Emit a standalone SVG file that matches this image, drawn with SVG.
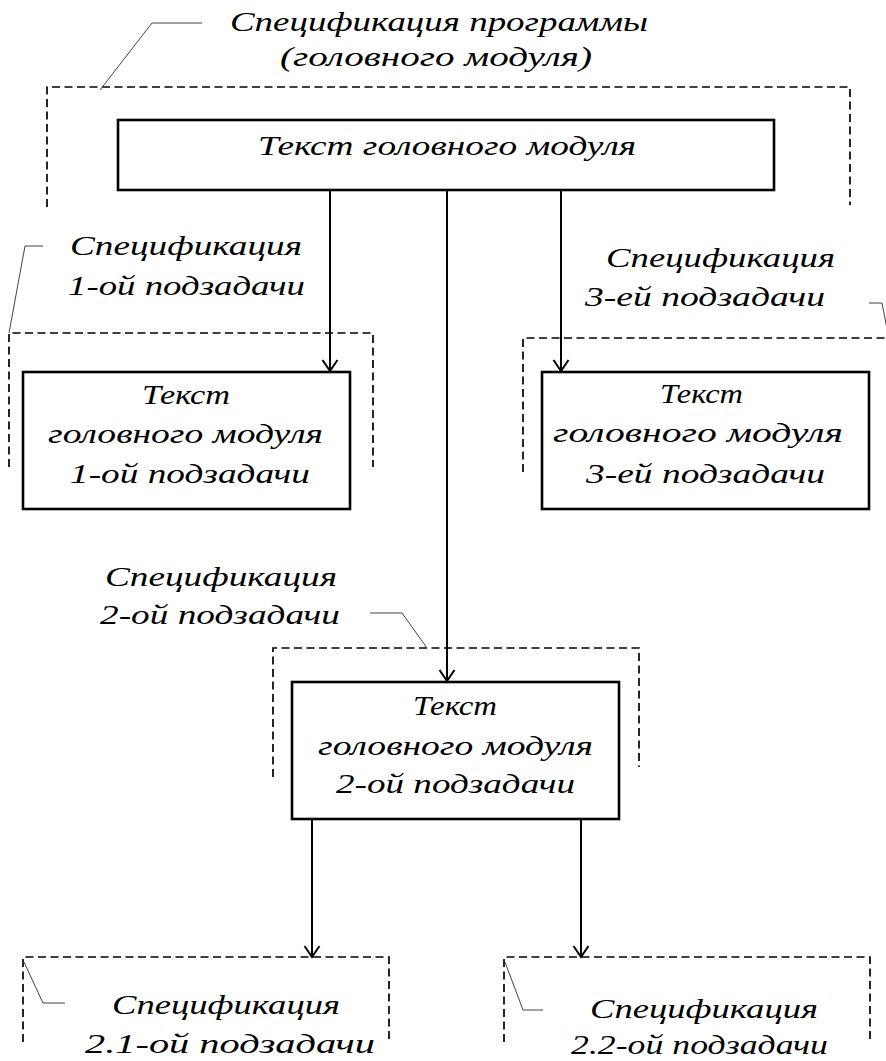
<svg xmlns="http://www.w3.org/2000/svg" width="886" height="1061" viewBox="0 0 886 1061">
<style>
  text { font-family: "Liberation Serif", "Times New Roman", serif; font-style: italic; font-size: 27px; fill: #000; }
  .box { fill: #fff; stroke: #000; stroke-width: 2.6; }
  .spec { fill: none; stroke: #000; stroke-width: 1.7; stroke-dasharray: 8 4.5; }
  .lead { fill: none; stroke: #444; stroke-width: 1; }
  .conn { fill: none; stroke: #000; stroke-width: 2; }
</style>
<defs>
  <marker id="arr" viewBox="0 0 14 18" refX="12.5" refY="9" markerWidth="14" markerHeight="18" markerUnits="userSpaceOnUse" orient="auto">
    <path d="M1.5 1.5 L12.5 9 L1.5 16.5" fill="none" stroke="#000" stroke-width="2"/>
  </marker>
</defs>
<rect width="886" height="1061" fill="#fff"/>

<g id="spec-main">
  <path class="spec" d="M47 207 V87 H850 V205"/>
  <path class="lead" d="M202 23 H152 L100 90"/>
  <text x="230" y="31" textLength="418" lengthAdjust="spacingAndGlyphs">Спецификация программы</text>
  <text x="280" y="66" textLength="312" lengthAdjust="spacingAndGlyphs">(головного модуля)</text>
</g>

<g id="node-main">
  <rect class="box" x="118" y="120" width="656" height="70"/>
  <text x="258" y="155" textLength="378" lengthAdjust="spacingAndGlyphs">Текст  головного модуля</text>
</g>

<g id="spec-1">
  <path class="spec" d="M9 467 V333 H373 V467"/>
  <path class="lead" d="M43 246 H25 L9 333"/>
  <text x="70" y="255" textLength="232" lengthAdjust="spacingAndGlyphs">Спецификация</text>
  <text x="68" y="295" textLength="237" lengthAdjust="spacingAndGlyphs">1-ой подзадачи</text>
</g>

<g id="node-1">
  <rect class="box" x="23" y="372" width="327" height="137"/>
  <text x="142" y="404" textLength="88" lengthAdjust="spacingAndGlyphs">Текст</text>
  <text x="48" y="443" textLength="275" lengthAdjust="spacingAndGlyphs">головного модуля</text>
  <text x="70" y="483" textLength="240" lengthAdjust="spacingAndGlyphs">1-ой подзадачи</text>
</g>

<g id="spec-3">
  <path class="spec" d="M523 472 V338 H890"/>
  <path class="lead" d="M869 303 H882 L890 345"/>
  <text x="606" y="267" textLength="229" lengthAdjust="spacingAndGlyphs">Спецификация</text>
  <text x="585" y="306" textLength="240" lengthAdjust="spacingAndGlyphs">3-ей подзадачи</text>
</g>

<g id="node-3">
  <rect class="box" x="542" y="372" width="327" height="137"/>
  <text x="660" y="403" textLength="83" lengthAdjust="spacingAndGlyphs">Текст</text>
  <text x="553" y="442" textLength="290" lengthAdjust="spacingAndGlyphs">головного модуля</text>
  <text x="586" y="483" textLength="239" lengthAdjust="spacingAndGlyphs">3-ей подзадачи</text>
</g>

<g id="spec-2">
  <path class="spec" d="M273 777 V648 H639 V767"/>
  <path class="lead" d="M370 613 H402 L427 648"/>
  <text x="105" y="586" textLength="232" lengthAdjust="spacingAndGlyphs">Спецификация</text>
  <text x="100" y="624" textLength="240" lengthAdjust="spacingAndGlyphs">2-ой подзадачи</text>
</g>

<g id="node-2">
  <rect class="box" x="292" y="682" width="327" height="137"/>
  <text x="413" y="715" textLength="84" lengthAdjust="spacingAndGlyphs">Текст</text>
  <text x="318" y="755" textLength="275" lengthAdjust="spacingAndGlyphs">головного модуля</text>
  <text x="336" y="793" textLength="239" lengthAdjust="spacingAndGlyphs">2-ой подзадачи</text>
</g>

<g id="spec-2-1">
  <path class="spec" d="M23 1042 V957 H389 V1042"/>
  <path class="lead" d="M24 962 L43 1003 H65"/>
  <text x="112" y="1014" textLength="228" lengthAdjust="spacingAndGlyphs">Спецификация</text>
  <text x="85" y="1053" textLength="290" lengthAdjust="spacingAndGlyphs">2.1-ой подзадачи</text>
</g>

<g id="spec-2-2">
  <path class="spec" d="M504 1042 V957 H870 V1042"/>
  <path class="lead" d="M505 962 L523 1010 H543"/>
  <text x="590" y="1018" textLength="228" lengthAdjust="spacingAndGlyphs">Спецификация</text>
  <text x="571" y="1054" textLength="257" lengthAdjust="spacingAndGlyphs">2.2-ой подзадачи</text>
</g>

<g id="connectors">
  <line class="conn" x1="330" y1="190" x2="330" y2="371" marker-end="url(#arr)"/>
  <line class="conn" x1="561" y1="190" x2="561" y2="371" marker-end="url(#arr)"/>
  <line class="conn" x1="447" y1="190" x2="447" y2="681" marker-end="url(#arr)"/>
  <line class="conn" x1="312" y1="819" x2="312" y2="957" marker-end="url(#arr)"/>
  <line class="conn" x1="581" y1="819" x2="581" y2="957" marker-end="url(#arr)"/>
</g>
</svg>
